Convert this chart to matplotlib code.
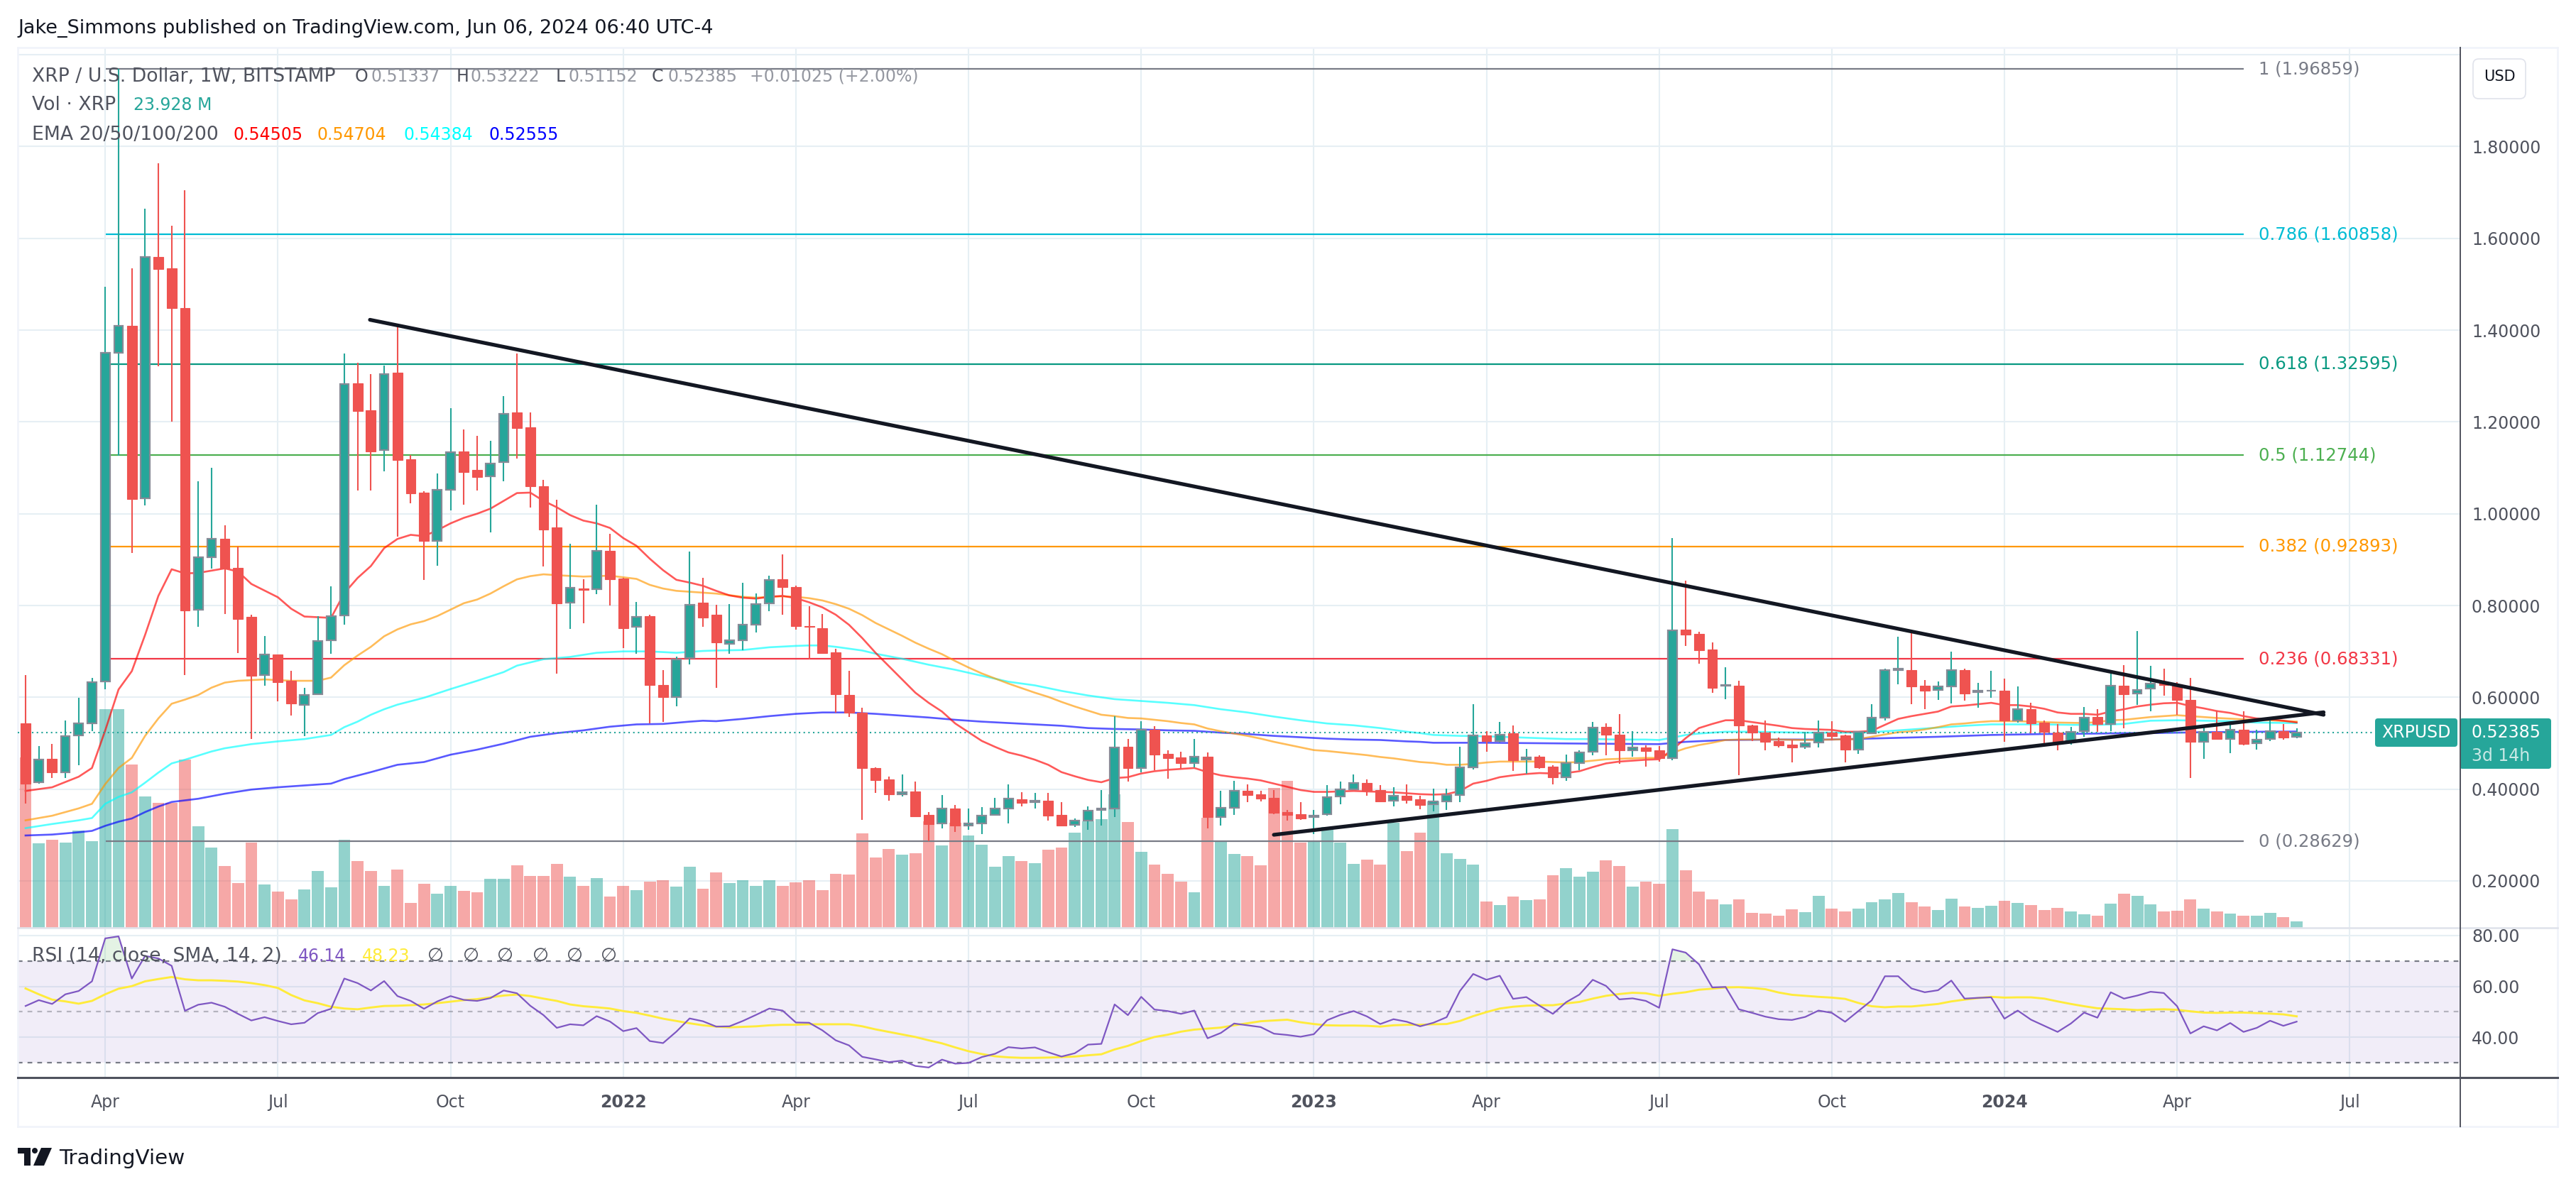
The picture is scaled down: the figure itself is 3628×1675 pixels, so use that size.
import matplotlib
matplotlib.use("Agg")
import matplotlib.pyplot as plt
from matplotlib.patches import Rectangle, Circle, Polygon, FancyBboxPatch
from matplotlib.lines import Line2D
from matplotlib.transforms import Affine2D
import numpy as np

# weekly candles, XRP/USD
opens = [.544,.415,.466,.437,.517,.544,.634,1.350,1.409,1.034,
1.559,1.535,1.448,.790,.905,.945,.882,.775,.648,.694,
.636,.584,.606,.724,.779,1.284,1.225,1.139,1.307,1.118,
1.046,.941,1.052,1.135,1.096,1.081,1.113,1.220,1.188,1.060,
.970,.806,.837,.835,.919,.859,.753,.777,.627,.600,
.685,.806,.780,.716,.724,.758,.805,.857,.841,.755,
.751,.698,.605,.566,.446,.421,.388,.395,.344,.325,
.357,.320,.325,.344,.358,.378,.371,.375,.344,.322,
.332,.354,.357,.492,.446,.530,.477,.469,.457,.471,
.339,.360,.396,.389,.381,.350,.346,.339,.345,.384,
.399,.414,.398,.375,.385,.378,.367,.373,.387,.447,
.517,.505,.522,.465,.470,.449,.426,.457,.481,.535,
.519,.485,.490,.484,.467,.748,.738,.704,.625,.625,
.539,.523,.505,.497,.492,.501,.523,.517,.486,.522,
.555,.660,.660,.626,.616,.623,.660,.612,.614,.614,
.550,.575,.545,.523,.503,.526,.557,.542,.626,.608,
.619,.633,.629,.595,.503,.524,.509,.529,.500,.509,
.527,.51337]
highs = [.648,.494,.498,.549,.599,.642,1.495,1.969,1.535,1.665,
1.763,1.627,1.705,1.071,1.100,.975,.929,.780,.733,.694,
.658,.620,.777,.842,1.349,1.329,1.304,1.323,1.414,1.128,
1.049,1.087,1.230,1.184,1.169,1.159,1.257,1.349,1.220,1.074,
1.030,.934,.858,1.019,.956,.860,.807,.780,.659,.689,
.917,.860,.801,.803,.849,.826,.865,.912,.843,.798,
.781,.705,.657,.578,.447,.428,.432,.417,.350,.387,
.366,.357,.361,.381,.410,.393,.392,.392,.372,.336,
.362,.398,.559,.509,.548,.537,.485,.482,.509,.480,
.396,.418,.410,.396,.398,.355,.372,.355,.409,.417,
.432,.421,.409,.404,.410,.386,.401,.401,.493,.585,
.526,.546,.539,.488,.473,.452,.475,.485,.546,.543,
.564,.526,.496,.494,.947,.854,.743,.719,.666,.636,
.540,.549,.512,.508,.525,.549,.548,.519,.525,.585,
.663,.732,.748,.638,.634,.700,.663,.632,.658,.641,
.624,.588,.549,.541,.535,.579,.574,.651,.670,.744,
.669,.662,.633,.642,.537,.571,.542,.570,.530,.557,
.541,.53222]
lows = [.368,.412,.424,.424,.452,.526,.618,1.127,.914,1.018,
1.321,1.200,.649,.753,.880,.782,.696,.509,.625,.592,
.560,.516,.606,.695,.759,1.051,1.050,1.092,.950,1.023,
.856,.886,1.007,1.020,1.051,.959,1.071,1.120,1.014,.885,
.652,.749,.762,.824,.800,.708,.695,.544,.547,.580,
.671,.753,.621,.695,.703,.742,.788,.780,.748,.683,
.695,.567,.557,.333,.391,.375,.384,.339,.287,.314,
.306,.312,.302,.343,.325,.362,.358,.332,.320,.317,
.312,.321,.339,.417,.436,.441,.423,.444,.447,.314,
.321,.344,.372,.373,.346,.332,.333,.302,.342,.367,
.398,.385,.372,.362,.369,.356,.351,.355,.372,.443,
.482,.501,.439,.433,.444,.410,.418,.442,.474,.474,
.455,.471,.449,.460,.463,.712,.673,.610,.596,.431,
.504,.485,.490,.459,.488,.491,.506,.459,.477,.521,
.549,.628,.585,.574,.594,.586,.593,.578,.599,.503,
.545,.521,.495,.485,.497,.514,.524,.527,.533,.584,
.569,.604,.562,.424,.466,.508,.479,.496,.486,.504,
.508,.51152]
closes = [.412,.464,.437,.515,.544,.633,1.350,1.409,1.032,1.559,
1.533,1.448,.789,.905,.945,.880,.771,.647,.694,.633,
.586,.605,.723,.777,1.283,1.224,1.136,1.304,1.117,1.045,
.941,1.052,1.134,1.091,1.080,1.110,1.217,1.187,1.060,.966,
.805,.839,.834,.919,.858,.750,.776,.627,.600,.682,
.802,.774,.719,.724,.759,.803,.856,.841,.755,.753,
.697,.607,.566,.446,.420,.388,.394,.341,.324,.357,
.320,.325,.342,.358,.379,.370,.375,.343,.321,.331,
.353,.357,.490,.446,.530,.475,.467,.457,.470,.339,
.360,.396,.387,.380,.348,.344,.336,.343,.383,.400,
.413,.396,.373,.385,.376,.366,.373,.387,.447,.517,
.505,.519,.463,.469,.448,.425,.456,.480,.534,.519,
.485,.490,.483,.467,.746,.737,.703,.621,.627,.538,
.523,.503,.496,.491,.500,.523,.516,.486,.524,.555,
.660,.662,.624,.615,.623,.660,.608,.614,.615,.550,
.575,.543,.524,.501,.525,.556,.541,.626,.607,.616,
.630,.627,.594,.503,.524,.509,.529,.499,.508,.526,
.513,.52385]
# volume in millions
volumes = [638,316,329,318,364,324,819,819,612,491,
467,467,631,380,300,231,167,320,161,135,
106,143,212,151,329,249,212,156,217,92,
164,127,156,137,132,183,183,233,193,193,
239,191,156,185,116,156,140,172,177,153,
228,145,207,168,179,157,179,157,171,179,
141,202,200,354,264,296,275,279,398,309,
394,346,311,229,269,250,243,292,301,356,
399,407,501,397,285,237,202,173,133,413,
322,277,269,234,524,550,318,322,379,320,
239,256,237,394,288,356,474,279,258,237,
98,85,117,104,107,197,224,192,211,253,
232,154,173,165,369,216,136,107,88,107,
56,53,45,69,58,120,72,62,72,96,
107,130,96,81,66,109,81,75,83,101,
94,85,66,75,62,51,45,90,128,120,
89,62,64,106,72,62,53,46,46,56,
40,24]
rsi = [52.3,54.6,53.1,56.9,58.2,62.0,78.9,79.7,63.1,72.0,
71.0,68.1,50.4,52.8,53.6,52.0,49.2,46.6,47.9,46.4,
45.1,45.7,49.5,51.2,63.1,61.3,58.4,62.1,56.2,54.3,
51.2,54.1,56.2,54.7,54.3,55.4,58.4,57.3,52.4,48.7,
43.7,45.1,44.7,48.3,46.2,42.4,43.6,38.5,37.7,42.2,
47.4,46.3,44.2,44.3,46.4,48.8,51.3,50.5,45.8,45.7,
42.7,38.8,36.8,32.3,31.3,30.2,30.8,28.7,28.1,31.2,
29.6,29.9,32.2,33.5,36.1,35.6,36.0,34.1,32.4,33.7,
37.1,37.4,52.9,48.7,55.9,50.9,50.3,49.2,50.5,39.6,
41.7,45.4,44.7,44.0,41.4,40.9,40.2,41.2,46.7,48.8,
50.3,48.2,45.2,47.1,46.1,44.3,45.7,47.9,58.2,64.9,
62.6,64.2,55.1,55.8,52.4,49.2,53.8,56.8,62.6,60.2,
54.9,55.3,54.3,51.6,74.6,73.3,68.7,59.6,59.8,51.0,
49.6,48.1,47.1,46.8,48.0,50.5,49.6,46.1,50.3,54.5,
64.0,64.0,59.2,57.7,58.5,62.3,55.2,55.5,55.7,47.3,
50.5,46.9,44.5,42.1,45.4,49.7,47.7,57.7,55.2,56.4,
57.9,57.4,52.2,41.5,44.3,42.7,45.6,42.1,43.7,46.5,
44.5,46.14]
rsi_ma = [59.2,56.9,54.8,54.1,53.2,54.3,56.9,59.1,60.1,62.0,
62.9,63.7,62.8,62.4,62.4,62.2,61.9,61.3,60.5,59.4,
56.6,54.5,53.4,52.0,51.3,51.0,51.7,52.3,52.4,52.6,
52.9,53.4,54.0,54.6,55.0,55.7,56.4,56.8,56.2,55.2,
54.3,52.9,52.2,51.8,51.3,50.3,49.6,48.5,47.3,46.4,
45.5,44.7,44.2,43.9,44.1,44.3,44.7,44.9,44.9,45.1,
45.1,45.1,45.1,44.3,43.1,42.1,41.1,40.1,38.8,37.6,
36.0,34.5,33.4,32.5,32.1,31.9,31.9,32.0,32.2,32.4,
32.9,33.3,35.2,36.6,38.5,40.1,41.0,42.2,43.0,43.4,
43.8,44.7,45.5,46.3,46.6,46.9,45.9,45.2,44.7,44.6,
44.6,44.5,44.2,44.7,44.9,44.9,45.1,45.2,46.4,48.3,
49.9,51.3,52.0,52.4,52.6,52.6,53.3,53.9,55.2,56.3,
57.0,57.5,57.3,56.3,57.1,57.7,58.7,59.1,59.6,59.7,
59.4,58.9,57.6,56.7,56.3,55.9,55.6,55.1,53.5,52.2,
51.8,52.1,52.1,52.6,53.1,54.1,54.8,55.4,55.9,55.6,
55.7,55.7,55.2,54.1,53.1,52.2,51.4,51.2,51.0,50.7,
50.9,51.0,50.8,50.2,49.7,49.6,49.7,49.7,49.5,49.3,
49.0,48.23]

ema20_idx = [0,2,4,5,6,7,8,9,10,11,12,13,15,16,17,19,20,21,23,24,25,26,27,28,29,30,31,32,33,34,35,36,37,38,39,40,41,42,43,44,45,46,47,48,49,50,51,
52,53,54,55,56,57,58,59,60,61,62,63,64,65,66,67,68,69,70,71,72,73,74,75,76,77,78,79,80,81,82,83,84,85,86,87,88,89,90,91,92,93,94,95,96,97,98,99,100,101,102,103,104,
105,106,107,108,109,110,111,112,113,114,115,116,117,118,119,120,121,122,123,124,125,126,127,128,129,130,131,132,133,134,135,136,137,138,139,140,141,142,143,144,145,146,147,148,149,150,151,152,153,154,155,156,157,158,
159,160,161,162,163,164,165,166,167,168,169,170,171]
ema20 = [.396,.404,.427,.446,.528,.617,.657,.736,.821,.879,.870,.871,.881,.874,.847,.818,.793,.776,.773,.827,.860,.886,.925,.945,.954,.951,.964,.979,.991,1.000,1.011,1.028,1.045,1.046,1.028,1.014,.997,.985,.979,.969,.947,.930,.902,.877,.856,.850,.843,
.832,.822,.817,.815,.819,.821,.816,.807,.796,.780,.758,.729,.697,.668,.639,.610,.588,.569,.543,.524,.505,.492,.480,.473,.464,.453,.437,.428,.420,.415,.424,.426,.434,.439,.442,.444,.446,.437,.430,.426,.423,.419,.412,.405,.398,.394,.394,.395,.396,.395,.394,.393,.391,
.389,.388,.389,.396,.412,.418,.426,.430,.433,.435,.434,.435,.439,.448,.456,.460,.462,.464,.465,.486,.511,.533,.542,.550,.550,.546,.542,.538,.533,.531,.530,.529,.525,.525,.527,.540,.553,.559,.564,.569,.580,.582,.585,.588,.583,.583,.580,.575,.567,.564,.564,.562,.569,.574,
.580,.584,.587,.588,.581,.576,.570,.566,.559,.554,.552,.549,.54505]

ema50_idx = [0,2,4,5,6,7,8,9,10,11,12,13,14,15,16,18,20,22,23,24,25,26,27,28,29,30,31,32,33,34,35,36,37,38,39,40,42,44,46,47,48,49,51,
52,54,55,56,57,58,59,60,61,62,63,64,65,66,67,68,69,70,71,72,73,74,75,76,77,78,79,80,81,82,83,84,85,86,87,88,89,90,91,92,93,94,95,96,97,98,99,100,101,102,103,104,
105,106,107,108,109,110,111,112,113,114,115,116,117,118,119,120,121,122,123,124,125,126,127,128,129,130,132,134,136,138,139,140,141,142,143,144,145,146,147,148,150,152,153,155,156,157,158,
160,162,163,165,167,169,171]
ema50 = [.332,.342,.358,.368,.411,.446,.468,.516,.554,.586,.595,.605,.621,.632,.636,.639,.636,.636,.643,.670,.691,.710,.733,.748,.759,.766,.777,.791,.805,.813,.826,.842,.857,.864,.868,.866,.863,.865,.858,.845,.837,.832,.828,
.826,.819,.817,.819,.820,.819,.816,.811,.803,.793,.779,.762,.748,.734,.719,.706,.694,.679,.665,.652,.641,.630,.620,.610,.601,.590,.580,.571,.562,.559,.555,.554,.551,.548,.544,.541,.532,.526,.521,.516,.510,.503,.497,.491,.485,.483,.480,.477,.474,.470,.467,.463,
.459,.457,.453,.453,.455,.458,.460,.460,.460,.460,.459,.458,.459,.462,.465,.466,.467,.468,.468,.479,.489,.496,.501,.507,.508,.508,.508,.507,.508,.509,.514,.519,.524,.526,.530,.535,.541,.543,.546,.548,.548,.546,.545,.544,.546,.550,.551,
.557,.561,.559,.555,.552,.550,.54704]

ema100_idx = [0,2,4,5,6,7,8,9,10,11,12,14,15,17,19,21,23,24,25,26,27,28,30,32,34,36,37,38,39,41,43,45,47,49,51,
52,54,56,58,59,60,61,62,63,64,66,68,70,72,74,76,78,80,82,84,86,88,90,92,94,96,98,100,102,104,
105,106,108,110,112,114,116,118,120,122,123,124,125,126,128,130,132,134,136,138,139,140,142,144,146,148,150,152,154,156,158,
160,162,164,166,168,171]
ema100 = [.315,.324,.332,.337,.368,.383,.393,.414,.436,.456,.464,.482,.489,.498,.504,.509,.518,.535,.547,.562,.574,.584,.599,.618,.636,.655,.669,.676,.683,.688,.697,.700,.700,.697,.701,
.702,.703,.709,.712,.713,.713,.710,.706,.702,.695,.684,.671,.660,.647,.634,.626,.614,.604,.596,.592,.588,.583,.574,.567,.558,.550,.543,.539,.533,.525,
.522,.518,.516,.515,.513,.511,.509,.509,.508,.508,.507,.512,.518,.521,.525,.525,.524,.523,.523,.523,.524,.526,.530,.534,.538,.541,.541,.541,.540,.540,.542,
.549,.550,.549,.548,.545,.54384]

ema200_idx = [0,2,4,5,6,7,8,9,10,11,13,15,17,19,21,23,24,26,28,30,32,34,36,38,40,42,44,46,48,50,51,
52,54,56,58,60,62,64,66,68,70,72,74,76,78,80,82,84,86,88,90,92,94,96,98,100,102,104,
105,106,108,110,114,118,123,125,128,132,136,140,144,148,152,156,158,160,164,171]
ema200 = [.299,.301,.306,.309,.320,.329,.336,.350,.362,.372,.379,.390,.399,.404,.408,.412,.422,.437,.453,.459,.475,.486,.499,.514,.522,.528,.536,.541,.542,.547,.549,
.548,.553,.559,.564,.567,.567,.564,.560,.556,.551,.547,.544,.541,.538,.533,.531,.530,.528,.527,.523,.520,.516,.513,.510,.508,.507,.504,
.503,.501,.501,.501,.500,.499,.498,.503,.507,.508,.508,.511,.514,.518,.520,.521,.522,.522,.524,.52555]

fib_ratios = ["1","0.786","0.618","0.5","0.382","0.236","0"]
fib_prices = [1.96859,1.60858,1.32595,1.12744,.92893,.68331,.28629]
fib_colors = ["#787b86","#00bcd4","#089981","#4caf50","#ff9800","#f23645","#787b86"]

# trend lines: (week index, price)
down_x = [25.93,173.03]
down_y = [1.4225,.5619]
up_x = [93.99,173.03]
up_y = [.3005,.5674]

month_pos = [6,19,32,45,58,71,84,97,110,123,136,149,162,175]
month_labels = ["Apr","Jul","Oct","2022","Apr","Jul","Oct","2023","Apr","Jul","Oct","2024","Apr","Jul"]
price_ticks = [.2,.4,.6,.8,1.0,1.2,1.4,1.6,1.8,2.0]
rsi_ticks = [40,60,80]
last_price = .52385

W,H = 3628,1675
GREEN = "#26a69a"
RED = "#ef5350"
GRID = "#e6eff4"
TEXT = "#50535e"
FS = 17
LABEL_FS = 19.2

fig = plt.figure(figsize=(W/100,H/100),dpi=100,facecolor="white")
px = Affine2D().scale(1,-1).translate(0,H)

def rect(l,t,r,b):
    return [l/W,1-b/H,(r-l)/W,(b-t)/H]

def put(x,y,s,color=TEXT,size=FS,**kw):
    kw.setdefault("va","center")
    return fig.text(x,y,s,color=color,fontsize=size,transform=px,**kw)

x = np.arange(len(closes))
o = np.array(opens); c = np.array(closes); hi = np.array(highs); lo = np.array(lows)
up = c>=o

xlim = (-0.588,183.32)
price_lim = (0.0979,2.0156)

# three layers so the volume bars sit between grid and candles
ax_grid = fig.add_axes(rect(25,67,3465,1307))
ax_vol = fig.add_axes(rect(25,67,3465,1307))
ax = fig.add_axes(rect(25,67,3465,1307))
ax_rsi = fig.add_axes(rect(25,1307,3465,1518))
ax_grid.set_zorder(0); ax_vol.set_zorder(1); ax.set_zorder(2)

for a in [ax_grid,ax_vol,ax,ax_rsi]:
    a.set_xlim(*xlim)
    for s in a.spines.values():
        s.set_visible(False)
    a.tick_params(length=0)
for a in [ax_vol,ax]:
    a.patch.set_visible(False)
    a.set_xticks([]); a.set_yticks([])
ax.set_ylim(*price_lim)

ax_grid.set_ylim(*price_lim)
ax_grid.set_xticks(month_pos)
ax_grid.set_xticklabels([])
ax_grid.set_yticks(price_ticks)
ax_grid.yaxis.tick_right()
ax_grid.set_yticklabels(["%.5f"%p if p<2 else "" for p in price_ticks],fontsize=FS,color=TEXT)
ax_grid.tick_params(axis="y",pad=11.5)
ax_grid.grid(True,color=GRID,lw=1.5)

# volume
ax_vol.set_ylim(0,3298)
ax_vol.bar(x,volumes,width=.9,color=[GREEN if u else RED for u in up],alpha=.5,lw=0)

# fib levels
for r,p,col in zip(fib_ratios,fib_prices,fib_colors):
    ax.plot([6.02,167.0],[p,p],color=col,lw=1.6,zorder=2,solid_capstyle="butt")
    put(3181,1370.3-646.6*p,"%s (%.5f)"%(r,p),color=col,size=17.5)

# EMAs
ax.plot(ema200_idx,ema200,color="#0000ff",alpha=.65,lw=1.9,zorder=3)
ax.plot(ema100_idx,ema100,color="#00ffff",alpha=.65,lw=1.9,zorder=3)
ax.plot(ema50_idx,ema50,color="#ff9800",alpha=.65,lw=1.9,zorder=3)
ax.plot(ema20_idx,ema20,color="#ff0000",alpha=.65,lw=1.9,zorder=3)

# last price line
ax.plot([xlim[0],177.5],[last_price,last_price],color=GREEN,lw=1.5,ls=(0,(1,2.2)),zorder=3.5)

# candles
ax.vlines(x[up],lo[up],hi[up],color=GREEN,lw=1.5,zorder=4)
ax.vlines(x[~up],lo[~up],hi[~up],color=RED,lw=1.5,zorder=4)
ax.bar(x[up],(c-o)[up],bottom=o[up],width=.68,color=GREEN,edgecolor="#868a96",lw=1.6,zorder=5)
ax.bar(x[~up],(o-c)[~up],bottom=c[~up],width=.74,color=RED,edgecolor=RED,lw=.8,zorder=5)

# trend lines
ax.plot(down_x,down_y,color="#131722",lw=3.8,zorder=6,solid_capstyle="round")
ax.plot(up_x,up_y,color="#131722",lw=3.8,zorder=6,solid_capstyle="round")

# RSI pane
ax_rsi.set_ylim(24.14,83.07)
ax_rsi.set_xticks(month_pos)
ax_rsi.set_xticklabels(month_labels,fontsize=FS,color=TEXT)
for lab,name in zip(ax_rsi.get_xticklabels(),month_labels):
    if name.startswith("20"):
        lab.set_fontweight("bold")
ax_rsi.tick_params(axis="x",pad=16.5)
ax_rsi.set_yticks(rsi_ticks)
ax_rsi.yaxis.tick_right()
ax_rsi.set_yticklabels(["%.2f"%v for v in rsi_ticks],fontsize=FS,color=TEXT)
ax_rsi.tick_params(axis="y",pad=11.5)
ax_rsi.grid(True,color=GRID,lw=1.5,zorder=0)
ax_rsi.set_axisbelow(True)
ax_rsi.axhspan(30,70,color="#7e57c2",alpha=.1,lw=0,zorder=1)
ax_rsi.axhline(70,color="#787b86",lw=1.6,ls=(0,(3,3.2)),zorder=2)
ax_rsi.axhline(50,color="#787b86",lw=1.6,ls=(0,(3,3.2)),alpha=.5,zorder=2)
ax_rsi.axhline(30,color="#787b86",lw=1.6,ls=(0,(3,3.2)),zorder=2)
rsi_arr = np.array(rsi)
ax_rsi.fill_between(x,70,rsi_arr,where=rsi_arr>70,interpolate=True,color="#4caf50",alpha=.15,lw=0,zorder=2)
ax_rsi.plot(x,rsi_ma,color="#ffeb3b",lw=2.1,zorder=3)
ax_rsi.plot(x,rsi,color="#7e57c2",lw=1.6,zorder=4)

# frame lines in pixels
def hline(y,x0,x1,col,lw):
    fig.add_artist(Line2D([x0,x1],[y,y],color=col,lw=lw,transform=px))
def vline(x0,y0,y1,col,lw):
    fig.add_artist(Line2D([x0,x0],[y0,y1],color=col,lw=lw,transform=px))
hline(67,25,3602,"#f0f3fa",1.8)
hline(1587,25,3602,"#f0f3fa",1.8)
vline(25,67,1587,"#f0f3fa",1.8)
vline(3602,67,1587,"#f0f3fa",1.8)
hline(1307,25,3602,"#e0e3eb",1.9)
hline(1518,25,3602,"#50535e",2.2)
vline(3465,67,1587,"#50535e",1.4)

# header and legends
put(25,40,"Jake_Simmons published on TradingView.com, Jun 06, 2024 06:40 UTC-4",color="#131722",size=19.5)
put(45,108,"XRP / U.S. Dollar, 1W, BITSTAMP",size=LABEL_FS)
gray = "#9598a1"
for xx,s,col in [(500,"O",TEXT),(523,"0.51337",gray),(643,"H",TEXT),(662,"0.53222",gray),
                 (783,"L",TEXT),(800,"0.51152",gray),(918,"C",TEXT),(940,"0.52385",gray),
                 (1056,"+0.01025 (+2.00%)",gray)]:
    put(xx,108,s,color=col)
put(45,148,"Vol · XRP",size=LABEL_FS)
put(188,148,"23.928 M",color=GREEN)
put(45,190,"EMA 20/50/100/200",size=LABEL_FS)
for xx,s,col in [(328,"0.54505","#ff0000"),(447,"0.54704","#ff9800"),(568,"0.54384","#00ffff"),(688,"0.52555","#0000ff")]:
    put(xx,190,s,color=col)

put(45,1347,"RSI (14, close, SMA, 14, 2)",size=LABEL_FS)
put(420,1347,"46.14",color="#7e57c2")
put(510,1347,"48.23",color="#ffeb3b")
for xx in [614,663,712,761,809,858]:
    put(xx,1347,"∅",ha="center",size=19)

# price tags
fig.add_artist(FancyBboxPatch((3349,1016),108,32,boxstyle="round,pad=4,rounding_size=4",fc=GREEN,ec="none",transform=px))
fig.add_artist(FancyBboxPatch((3468,1016),121,63,boxstyle="round,pad=4,rounding_size=4",fc=GREEN,ec="none",transform=px))
put(3403,1032,"XRPUSD",color="white",ha="center")
put(3481,1032,"0.52385",color="white")
put(3481,1065,"3d 14h",color="white",alpha=.75)

# USD button
fig.add_artist(FancyBboxPatch((3487,87),66,48,boxstyle="round,pad=4,rounding_size=8",fc="white",ec="#e0e3eb",lw=1.2,transform=px))
put(3520,108,"USD",color="#131722",size=15,ha="center")

# TradingView logo
fig.add_artist(Rectangle((25,1617),18,8,fc="#131722",ec="none",transform=px))
fig.add_artist(Rectangle((34,1625),9,17,fc="#131722",ec="none",transform=px))
fig.add_artist(Circle((49,1621),4,fc="#131722",ec="none",transform=px))
fig.add_artist(Polygon([(58,1617),(73,1617),(62,1642),(47,1642)],fc="#131722",ec="none",transform=px))
put(83,1632,"TradingView",color="#131722",size=21.2)

fig.savefig("out.png",dpi=100,facecolor="white")
